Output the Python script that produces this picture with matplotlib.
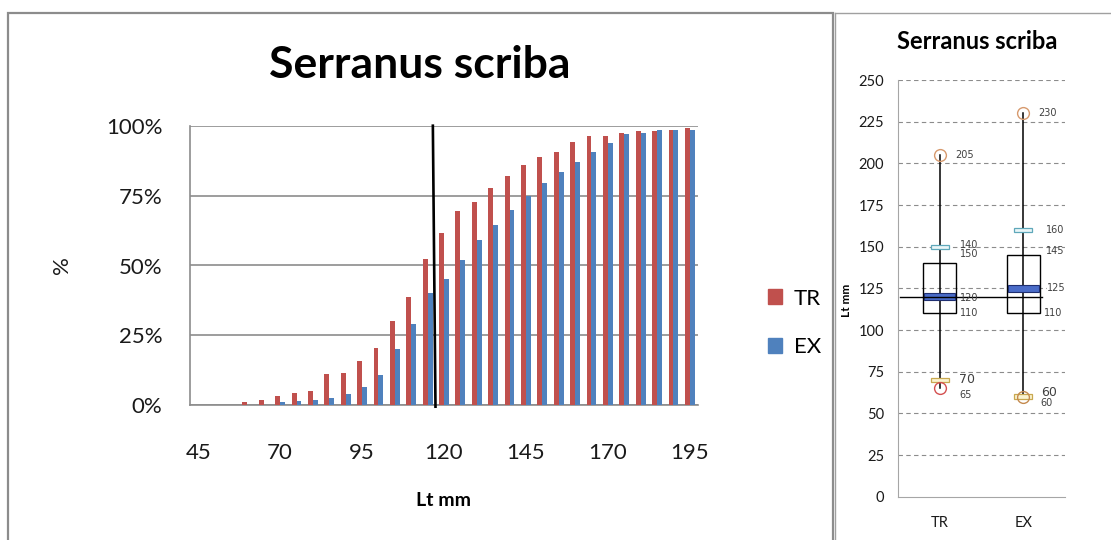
import matplotlib
matplotlib.use('Agg')
import matplotlib.pyplot as plt
from matplotlib.patches import Rectangle, Patch
from matplotlib.lines import Line2D
from matplotlib.ticker import FuncFormatter

plt.rcParams['font.family'] = ['Lato', 'DejaVu Sans']

# cumulative length frequency (%) per 5 mm class
lengths = list(range(45, 200, 5))
tr_pct = [0, 0, 0, 1.1, 1.9, 3.3, 4.3, 5.1, 11.2, 11.7, 15.7, 20.4, 30.0, 38.6, 52.4, 61.6,
          69.5, 72.7, 77.7, 81.9, 86.1, 88.7, 90.6, 94.3, 96.2, 96.2, 97.5, 98.0, 98.0, 98.3, 99.3]
ex_pct = [0, 0, 0, 0, 0, 1.1, 1.5, 2.0, 2.5, 3.9, 6.7, 10.7, 20.0, 29.1, 40.2, 45.2,
          52.0, 59.0, 64.4, 70.0, 74.9, 79.6, 83.3, 87.0, 90.6, 93.8, 97.0, 97.5, 98.3, 98.3, 98.3]
l50 = 117.0

# box plot summary (Lt mm)
groups = ['TR', 'EX']
box_low = [110, 110]
box_high = [140, 145]
median = [120, 125]
max_len = [205, 230]
min_len = [65, 60]
upper_mark = [150, 160]
lower_mark = [70, 60]
ref_len = 120

RED = '#C0504D'
BLUE = '#4F81BD'
GRID = '#8C8C8C'

fig = plt.figure(figsize=(11.11, 5.40), dpi=100)

# ---- left chart: cumulative bars
ax = fig.add_axes([190 / 1111, 1 - 405.3 / 540, 508 / 1111, 279.6 / 540])
idx = list(range(len(lengths)))
w = 0.3
ax.bar([i - w / 2 for i in idx], tr_pct, width=w, color=RED, label='TR', zorder=3)
ax.bar([i + w / 2 for i in idx], ex_pct, width=w, color=BLUE, label='EX', zorder=3)
ax.set_xlim(-0.5, len(lengths) - 0.5)
ax.set_ylim(0, 100)
ax.set_yticks([0, 25, 50, 75, 100])
ax.yaxis.set_major_formatter(FuncFormatter(lambda v, p: '%d%%' % v))
ax.set_xticks(idx[::5])
ax.set_xticklabels([str(v) for v in lengths[::5]])
ax.grid(axis='y', color=GRID, lw=1.2, zorder=0)
ax.tick_params(length=0, labelsize=16, colors='#1a1a1a')
ax.tick_params(axis='x', pad=27)
ax.tick_params(axis='y', pad=20)
for s in ['top', 'right']:
    ax.spines[s].set_visible(False)
for s in ['left', 'bottom']:
    ax.spines[s].set_color(GRID)
    ax.spines[s].set_linewidth(1.2)

# L50 line, slightly slanted as in the original
x50 = (l50 - lengths[0]) / 5
ax.plot([x50 - 0.08, x50 + 0.08], [100, -0.5], color='black', lw=1.9, zorder=4, clip_on=False)

fig.text(420 / 1111, 1 - 65 / 540, 'Serranus scriba', ha='center', va='center',
         fontsize=32, fontweight='bold')
fig.text(443 / 1111, 1 - 500 / 540, 'Lt mm', ha='center', va='center',
         fontsize=14, fontweight='bold')
fig.text(62 / 1111, 1 - 265 / 540, '%', ha='center', va='center', rotation=90,
         fontsize=16, color='#1a1a1a')

handles = [Patch(color=RED, label='TR'), Patch(color=BLUE, label='EX')]
fig.legend(handles=handles, loc='center left', bbox_to_anchor=(748 / 1111, 1 - 323 / 540),
           frameon=False, fontsize=16, handlelength=0.65, handleheight=0.65,
           handletextpad=0.5, labelspacing=1.3)

# ---- right chart: box plot
bx = fig.add_axes([898 / 1111, 1 - 496.7 / 540, 167 / 1111, 416.7 / 540])
bx.set_xlim(0.5, 2.5)
bx.set_ylim(0, 250)
bx.set_yticks(range(0, 251, 25))
bx.set_xticks([1, 2])
bx.set_xticklabels(groups)
bx.grid(axis='y', color='#8C8C8C', ls=(0, (4, 3)), lw=0.8, zorder=0)
bx.yaxis.get_gridlines()[0].set_visible(False)
bx.tick_params(length=0, labelsize=10.5, colors='#1a1a1a')
bx.tick_params(axis='y', pad=10)
bx.tick_params(axis='x', pad=14)
for s in ['top', 'right']:
    bx.spines[s].set_visible(False)
for s in ['left', 'bottom']:
    bx.spines[s].set_color('#A6A6A6')

for i, g in enumerate(groups):
    x = i + 1
    bx.plot([x, x], [min_len[i], max_len[i]], color='black', lw=1.1, zorder=2)
    bx.add_patch(Rectangle((x - 0.2, box_low[i]), 0.4, box_high[i] - box_low[i],
                           fill=False, ec='black', lw=1.0, zorder=3))
    bx.add_patch(Rectangle((x - 0.185, median[i] - 2), 0.37, 4,
                           fc='#4A6CC8', ec='#1F2F70', lw=0.8, zorder=4))
    bx.add_patch(Rectangle((x - 0.105, upper_mark[i] - 1.2), 0.21, 2.4,
                           fc='#EAF6F8', ec='#5FA8BA', lw=0.9, zorder=4))
    bx.add_patch(Rectangle((x - 0.105, lower_mark[i] - 1.4), 0.21, 2.8,
                           fc='#FAF3D0', ec='#C8A850', lw=0.9, zorder=4))
    bx.plot(x, max_len[i], 'o', ms=8.5, mfc='none', mec='#D79A6E', mew=1.0, zorder=5)
    bx.plot(x, min_len[i], 'o', ms=8.5, mfc='none',
            mec='#D45050' if g == 'TR' else '#C48A4E', mew=1.0, zorder=5)

bx.plot([0.52, 2.23], [ref_len, ref_len], color='black', lw=1.0, zorder=5)


def label(x, y, text, dx, dy, size=7, bg=False):
    t = bx.annotate(text, (x, y), xytext=(dx, dy), textcoords='offset pixels',
                    ha='left', va='center', fontsize=size, color='#404040',
                    family='DejaVu Sans', zorder=6)
    if bg:
        t.set_bbox(dict(fc='white', ec='none', pad=0.5))


label(1, max_len[0], str(max_len[0]), 15, 0)
label(1, upper_mark[0], str(box_high[0]), 20, 2)
label(1, upper_mark[0], str(upper_mark[0]), 20, -7)
label(1, median[0], str(median[0]), 20, -1)
label(1, box_low[0], str(box_low[0]), 20, 0)
label(1, lower_mark[0], str(lower_mark[0]), 19, 1, 9)
label(1, min_len[0], str(min_len[0]), 20, -7)
label(2, max_len[1], str(max_len[1]), 15, 0)
label(2, upper_mark[1], str(upper_mark[1]), 23, 0)
label(2, box_high[1], str(box_high[1]), 23, 4)
label(2, median[1], str(median[1]), 24, 0, bg=True)
label(2, box_low[1], str(box_low[1]), 21, 0)
label(2, lower_mark[1], str(lower_mark[1]), 18, 4, 9)
label(2, min_len[1], str(min_len[1]), 17, -6)

fig.text(977 / 1111, 1 - 42 / 540, 'Serranus scriba', ha='center', va='center',
         fontsize=17, fontweight='bold')
fig.text(846 / 1111, 1 - 300 / 540, 'Lt mm', ha='center', va='center', rotation=90,
         fontsize=8.5, fontweight='bold')

# panel borders
fig.add_artist(Rectangle((8 / 1111, -0.05), 825 / 1111, 1.05 - 13 / 540,
                         transform=fig.transFigure, fill=False, ec='#8C8C8C', lw=1.6))
fig.add_artist(Line2D([835 / 1111, 835 / 1111], [-0.05, 1 - 13 / 540],
                      transform=fig.transFigure, color='#A0A0A0', lw=1.0))
fig.add_artist(Line2D([835 / 1111, 1.01], [1 - 13 / 540, 1 - 13 / 540],
                      transform=fig.transFigure, color='#A0A0A0', lw=1.0))

fig.savefig('out.png', dpi=100)
